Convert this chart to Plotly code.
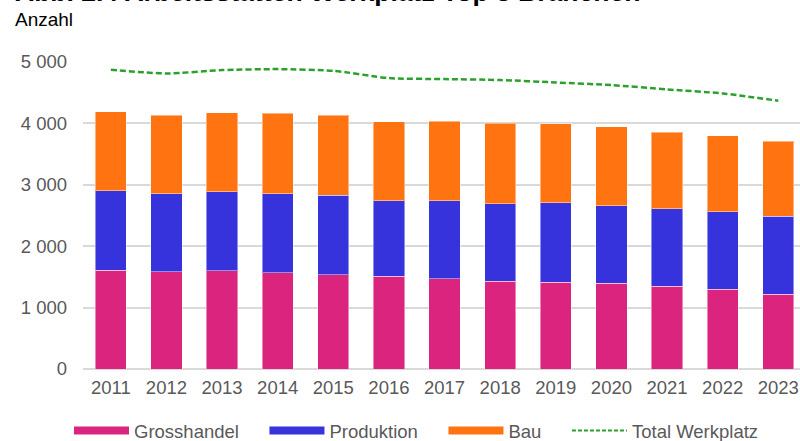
import plotly.graph_objects as go

years = [str(y) for y in range(2011, 2024)]
grosshandel = [1605, 1583, 1600, 1567, 1535, 1507, 1470, 1426, 1415, 1393, 1350, 1301, 1220]
produktion_top = [2901, 2852, 2884, 2857, 2830, 2743, 2738, 2694, 2710, 2662, 2613, 2564, 2488]
gesamt_top = [4190, 4136, 4174, 4169, 4130, 4023, 4039, 4006, 3995, 3946, 3860, 3795, 3713]
produktion = [p - g for p, g in zip(produktion_top, grosshandel)]
bau = [t - p for t, p in zip(gesamt_top, produktion_top)]
total_werkplatz = [4873, 4813, 4868, 4884, 4857, 4738, 4722, 4706, 4667, 4624, 4553, 4488, 4369]

ytick_vals = [0, 1000, 2000, 3000, 4000, 5000]
ytick_text = ["0", "1 000", "2 000", "3 000", "4 000", "5 000"]

C_PINK = "#DB247D"
C_BLUE = "#3633DC"
C_ORANGE = "#FF7410"
C_GREEN = "#2CA02C"
FONT = "Liberation Sans, Arial, sans-serif"
FS = 18.5
PAD = "\u00a0" * 4

fig = go.Figure()
edge = dict(color="rgba(255,255,255,0.45)", width=1)
for name, vals, col in [("Grosshandel", grosshandel, C_PINK),
                        ("Produktion", produktion, C_BLUE),
                        ("Bau", bau, C_ORANGE)]:
    fig.add_trace(go.Bar(x=years, y=vals, name=name, marker=dict(color=col, line=edge),
                         showlegend=False, legendgroup=name))

fig.add_trace(go.Scatter(x=years, y=total_werkplatz, mode="lines", name="Total Werkplatz",
                         line=dict(color=C_GREEN, width=2.5, dash="6px,3px", shape="spline", smoothing=0.6),
                         showlegend=False, legendgroup="Total Werkplatz"))

# legend entries
for name, col in [("Grosshandel", C_PINK), ("Produktion", C_BLUE), ("Bau", C_ORANGE)]:
    fig.add_trace(go.Scatter(x=[None], y=[None], mode="lines", name=name + PAD, legendgroup=name,
                             line=dict(color=col, width=8)))
fig.add_trace(go.Scatter(x=[None], y=[None], mode="lines", name="Total Werkplatz",
                         legendgroup="Total Werkplatz",
                         line=dict(color=C_GREEN, width=2, dash="4px,2px")))

fig.update_layout(
    width=800, height=441,
    margin=dict(l=83, r=0, t=61.5, b=72.3),
    barmode="stack", bargap=0.44,
    plot_bgcolor="white", paper_bgcolor="white",
    font=dict(family=FONT, size=FS, color="#595959"),
    legend=dict(orientation="h", xref="container", yref="container",
                x=69 / 800, xanchor="left", y=(441 - 431) / 441, yanchor="middle",
                itemwidth=55, font=dict(size=FS, color="#595959"), traceorder="normal"),
    xaxis=dict(type="category", range=[-0.5, 12.39], showgrid=False, showline=False,
               ticks="", ticklabelstandoff=5, tickfont=dict(size=FS, color="#595959")),
    yaxis=dict(range=[0, 5000], tickvals=ytick_vals, ticktext=ytick_text,
               showgrid=True, gridcolor="#D9D9D9", gridwidth=1.5,
               zeroline=True, zerolinecolor="#D9D9D9", zerolinewidth=1.5,
               showline=False, ticks="", ticklabelstandoff=15,
               tickfont=dict(size=FS, color="#595959")),
    annotations=[
        dict(text="<b>Abb. 2.4 Arbeitsstätten Werkplatz Top 3 Branchen</b>", xref="paper", yref="paper",
             x=(13 - 83) / 717, y=1 + (61.5 + 9) / 307.2, xanchor="left", yanchor="middle",
             showarrow=False, font=dict(family=FONT, size=26.5, color="black")),
        dict(text="Anzahl", xref="paper", yref="paper",
             x=(13 - 83) / 717, y=1 + (61.5 - 19) / 307.2, xanchor="left", yanchor="middle",
             showarrow=False, font=dict(family=FONT, size=19, color="black")),
    ],
)

fig.write_html("out.html", config={"displayModeBar": False},
               post_script="document.body.style.margin='0';")
